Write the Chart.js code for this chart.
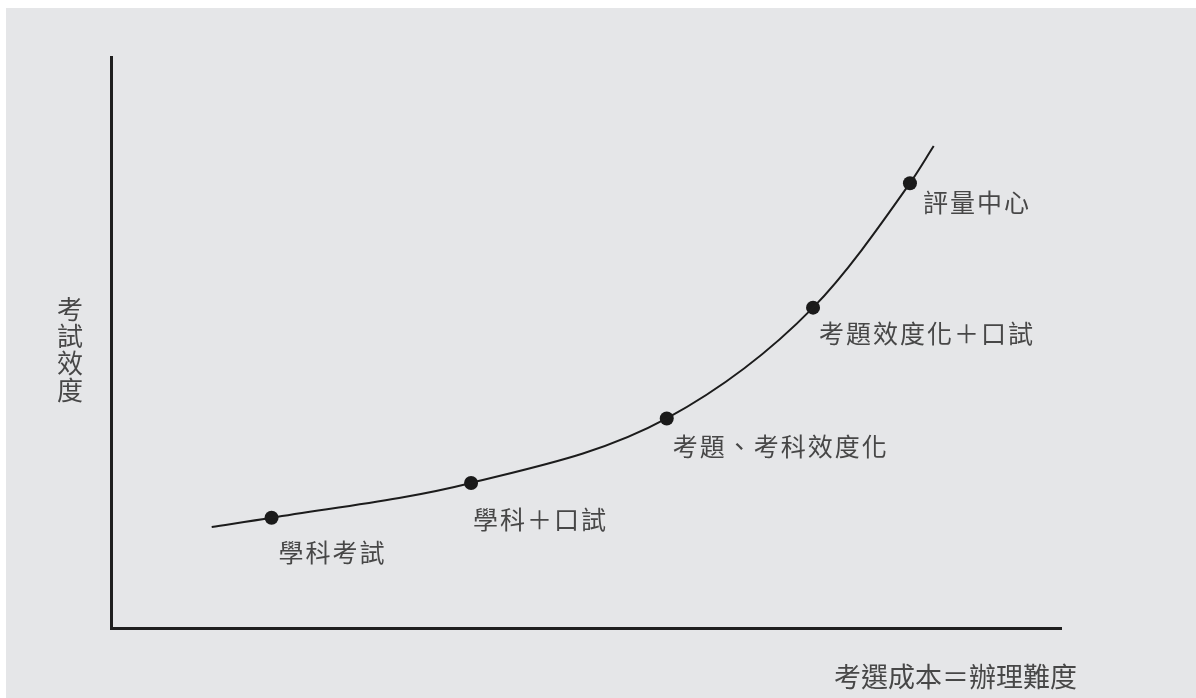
<!DOCTYPE html>
<html>
<head>
<meta charset="utf-8">
<script src="https://cdn.jsdelivr.net/npm/chart.js@4"></script>
<style>
  html, body { margin: 0; padding: 0; background: #ffffff; }
  #bg { position: absolute; left: 6px; top: 8px; width: 1190px; height: 690px; background: #e5e6e8; }
  #wrap { position: absolute; left: 0; top: 0; width: 1196px; height: 698px; }
</style>
</head>
<body>
<div id="bg"></div>
<div id="wrap"><canvas id="c" width="1196" height="698"></canvas></div>
<script>
// Curve through the stages (first and last entries are the curve's open ends)
const curveX = [10.6, 16.9, 37.9, 58.5, 73.9, 84.1, 86.6];
const curveY = [17.7, 19.3, 25.4, 36.7, 56.1, 77.9, 84.4];
// Marked stages
const stageLabels = ['學科考試', '學科＋口試', '考題、考科效度化', '考題效度化＋口試', '評量中心'];
const stageX = [16.9, 37.9, 58.5, 73.9, 84.1];
const stageY = [19.3, 25.4, 36.7, 56.1, 77.9];
const yTitle = '考試效度';
const xTitle = '考選成本＝辦理難度';

// label placement (style only): pixel offsets from the marker
const labelDX = [7, 2, 6, 6, 13];
const labelDY = [35, 37, 28, 26, 19];

const FONT = '"Noto Sans CJK TC", "Noto Sans CJK SC", sans-serif';
const TEXT = '#474747';

const textPlugin = {
  id: 'texts',
  afterDatasetsDraw(chart) {
    const ctx = chart.ctx;
    const xs = chart.scales.x, ys = chart.scales.y;
    ctx.save();
    ctx.fillStyle = TEXT;
    ctx.font = '25px ' + FONT;
    ctx.textBaseline = 'middle';
    ctx.textAlign = 'left';
    if ('letterSpacing' in ctx) ctx.letterSpacing = '2px';
    stageLabels.forEach((t, i) => {
      const px = xs.getPixelForValue(stageX[i]);
      const py = ys.getPixelForValue(stageY[i]);
      ctx.fillText(t, px + labelDX[i], py + labelDY[i]);
    });
    if ('letterSpacing' in ctx) ctx.letterSpacing = '0px';
    // y title: stacked vertical characters, left of the y axis
    ctx.font = '26px ' + FONT;
    ctx.textAlign = 'center';
    const chars = Array.from(yTitle);
    const lh = 27;
    const cx = xs.left - 41;
    const cy = (ys.top + ys.bottom) / 2 + 7;
    chars.forEach((ch, i) => {
      ctx.fillText(ch, cx, cy + (i - (chars.length - 1) / 2) * lh);
    });
    // x title: right-aligned below the x axis
    ctx.font = '27px ' + FONT;
    ctx.textAlign = 'right';
    ctx.fillText(xTitle, xs.right + 16, ys.bottom + 49);
    ctx.restore();
  }
};

new Chart(document.getElementById('c'), {
  type: 'scatter',
  data: {
    datasets: [
      {
        data: curveX.map((x, i) => ({ x, y: curveY[i] })),
        showLine: true,
        borderColor: '#1c1c1c',
        borderWidth: 2,
        pointRadius: 0,
        cubicInterpolationMode: 'monotone',
        fill: false
      },
      {
        data: stageX.map((x, i) => ({ x, y: stageY[i] })),
        showLine: false,
        pointRadius: 7,
        pointBackgroundColor: '#1a1a1a',
        pointBorderColor: '#1a1a1a',
        pointBorderWidth: 0
      }
    ]
  },
  options: {
    responsive: false,
    animation: false,
    devicePixelRatio: 1,
    layout: { padding: { left: 103, top: 57, right: 135, bottom: 62 } },
    plugins: { legend: { display: false }, tooltip: { enabled: false } },
    scales: {
      x: {
        type: 'linear', min: 0, max: 100,
        grid: { display: false },
        ticks: { display: false },
        border: { display: true, color: '#1f1f1f', width: 3 }
      },
      y: {
        type: 'linear', min: 0, max: 100,
        grid: { display: false },
        ticks: { display: false },
        border: { display: true, color: '#1f1f1f', width: 3 }
      }
    }
  },
  plugins: [textPlugin]
});
</script>
</body>
</html>
